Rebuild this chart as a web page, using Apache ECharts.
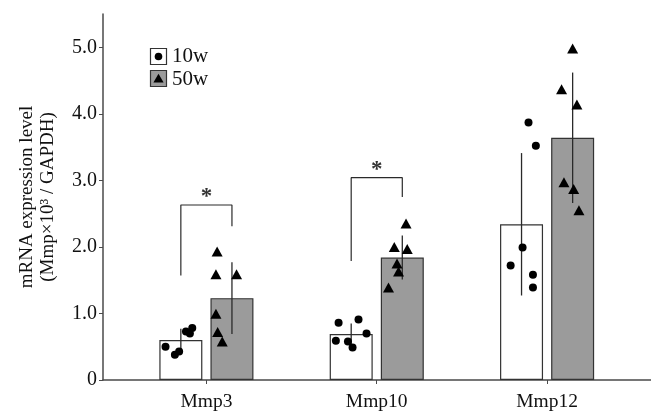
<!DOCTYPE html>
<html><head><meta charset="utf-8">
<script src="https://cdn.jsdelivr.net/npm/echarts@6/dist/echarts.min.js"></script>
<style>html,body{margin:0;padding:0;background:#fff}#c{width:651px;height:412px}</style>
</head><body><div id="c"></div>
<script>
var categories = ['Mmp3', 'Mmp10', 'Mmp12'];
var yTicks = [0, 1, 2, 3, 4, 5];
var mean10 = [0.60, 0.69, 2.34];
var sd10 = [0.17, 0.16, 1.07];
var mean50 = [1.23, 1.84, 3.64];
var sd50 = [0.54, 0.33, 0.98];
var pts10 = [[0.50, 0.38, 0.43, 0.73, 0.70, 0.78], [0.86, 0.91, 0.70, 0.59, 0.58, 0.49], [3.87, 3.52, 1.99, 1.72, 1.58, 1.39]];
var jit10 = [[-0.24, -0.185, -0.16, -0.12, -0.097, -0.083], [-0.224, -0.107, -0.06, -0.24, -0.169, -0.142], [-0.109, -0.066, -0.144, -0.214, -0.083, -0.083]];
var pts50 = [[1.93, 1.59, 1.59, 0.995, 0.72, 0.58], [2.35, 2.0, 1.97, 1.75, 1.63, 1.39], [4.98, 4.37, 4.14, 2.97, 2.87, 2.55]];
var jit50 = [[0.063, 0.056, 0.177, 0.056, 0.066, 0.093], [0.172, 0.103, 0.179, 0.119, 0.128, 0.069], [0.15, 0.085, 0.175, 0.099, 0.156, 0.187]];
var sigCats = [0, 1];
var sigLeft = [1.57, 1.79];
var sigTop = [2.63, 3.04];
var sigRight = [2.31, 2.75];
var groups = ['10w', '50w'];

var OFF = 0.15;
var FONT = 'Liberation Serif, Times New Roman, serif';
var TXT = '#111111';
var AX = '#4a4a4a';
var GRAY = '#9b9b9b';
var EDGE = '#333333';

function barData(means, sign) {
  return means.map(function (m, i) { return [i + sign * OFF, m]; });
}
function errData(means, sds, sign) {
  return means.map(function (m, i) { return [i + sign * OFF, m - sds[i], m + sds[i]]; });
}
function ptData(pts, jit) {
  var out = [];
  pts.forEach(function (arr, i) {
    arr.forEach(function (v, j) { out.push([i + jit[i][j], v]); });
  });
  return out;
}
function errSeries(data) {
  return {
    type: 'custom', z: 3, silent: true,
    data: data,
    encode: { x: 0, y: [1, 2] },
    renderItem: function (params, api) {
      var p1 = api.coord([api.value(0), api.value(1)]);
      var p2 = api.coord([api.value(0), api.value(2)]);
      return { type: 'line', shape: { x1: p1[0], y1: p1[1], x2: p2[0], y2: p2[1] },
        style: { stroke: '#2a2a2a', lineWidth: 1.3 } };
    }
  };
}

var series = [
  { name: groups[0], type: 'bar', data: barData(mean10, -1), barWidth: 43, barGap: '-100%', z: 2,
    itemStyle: { color: '#ffffff', borderColor: EDGE, borderWidth: 1.2 } },
  { name: groups[1], type: 'bar', data: barData(mean50, 1), barWidth: 43, barGap: '-100%', z: 2,
    itemStyle: { color: GRAY, borderColor: EDGE, borderWidth: 1.2 } },
  errSeries(errData(mean10, sd10, -1)),
  errSeries(errData(mean50, sd50, 1)),
  { type: 'scatter', data: ptData(pts10, jit10), symbol: 'circle', symbolSize: 8, z: 4,
    itemStyle: { color: '#000', opacity: 1 } },
  { type: 'scatter', data: ptData(pts50, jit50), symbol: 'triangle', symbolSize: [11, 10], z: 4,
    itemStyle: { color: '#000', opacity: 1 } }
];

sigCats.forEach(function (c, k) {
  series.push({
    type: 'line', symbol: 'none', silent: true, z: 3,
    lineStyle: { color: '#2a2a2a', width: 1.2 },
    data: [[c - OFF, sigLeft[k]], [c - OFF, sigTop[k]], [c + OFF, sigTop[k]], [c + OFF, sigRight[k]]]
  });
  series.push({
    type: 'scatter', symbolSize: 1, silent: true, z: 3,
    itemStyle: { color: 'rgba(0,0,0,0)' },
    data: [[c, sigTop[k]]],
    label: { show: true, position: 'top', distance: -4, formatter: '*', fontFamily: FONT, fontSize: 23, fontWeight: 'bold', color: '#000' }
  });
});

var chart = echarts.init(document.getElementById('c'));
chart.setOption({
  animation: false,
  backgroundColor: '#fff',
  grid: { left: 103, right: 0, top: 14, bottom: 28.5 },
  xAxis: {
    type: 'value', min: -0.607, max: 2.61,
    splitLine: { show: false },
    axisLine: { show: true, onZero: false, lineStyle: { color: AX, width: 1.5 } },
    axisTick: { show: true, customValues: [0, 1, 2], length: 4, lineStyle: { color: AX } },
    axisLabel: { customValues: [0, 1, 2], margin: 12, fontFamily: FONT, fontSize: 19.5, color: TXT,
      formatter: function (v) { return categories[Math.round(v)]; } }
  },
  yAxis: {
    type: 'value', min: 0, max: 5.5,
    splitLine: { show: false },
    axisLine: { show: true, onZero: false, lineStyle: { color: AX, width: 1.5 } },
    axisTick: { show: true, customValues: yTicks, length: 4, lineStyle: { color: AX } },
    axisLabel: { customValues: yTicks, margin: 6, fontFamily: FONT, fontSize: 20, color: TXT,
      formatter: function (v) { return v === 0 ? '0' : v.toFixed(1); } },
    name: 'mRNA expression level\n(Mmp×10³ / GAPDH)',
    nameLocation: 'middle', nameGap: 44, nameRotate: 90,
    nameTextStyle: { fontFamily: FONT, fontSize: 19, color: TXT, lineHeight: 21 }
  },
  graphic: [
    { type: 'rect', shape: { x: 150.5, y: 48.5, width: 16, height: 16 }, style: { fill: '#fff', stroke: EDGE, lineWidth: 1.2 } },
    { type: 'circle', shape: { cx: 158.5, cy: 56.5, r: 3.8 }, style: { fill: '#000' } },
    { type: 'rect', shape: { x: 150.5, y: 70.5, width: 16, height: 16 }, style: { fill: GRAY, stroke: EDGE, lineWidth: 1.2 } },
    { type: 'polygon', shape: { points: [[158.5, 73.8], [163.6, 82.6], [153.4, 82.6]] }, style: { fill: '#000' } },
    { type: 'text', x: 172, y: 56.5, style: { text: groups[0], fontFamily: FONT, fontSize: 21, fill: TXT, verticalAlign: 'middle' } },
    { type: 'text', x: 172, y: 79, style: { text: groups[1], fontFamily: FONT, fontSize: 21, fill: TXT, verticalAlign: 'middle' } }
  ],
  series: series
});
</script></body></html>
